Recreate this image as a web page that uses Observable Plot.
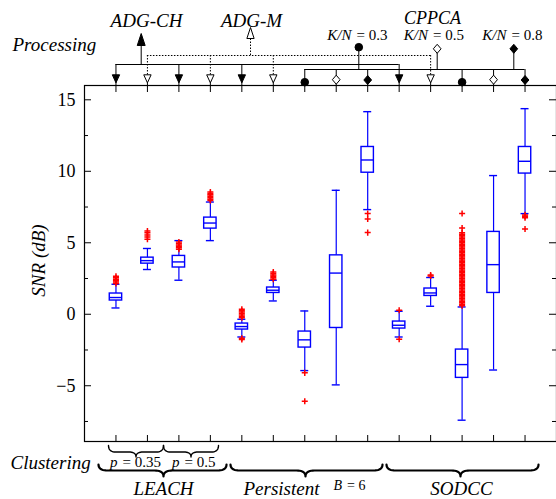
<!DOCTYPE html>
<html>
<head>
<meta charset="utf-8">
<script src="https://cdn.jsdelivr.net/npm/d3@7"></script>
<script src="https://cdn.jsdelivr.net/npm/@observablehq/plot@0.6"></script>
<style>
  html, body { margin: 0; padding: 0; background: white; }
  svg { display: block; }
</style>
</head>
<body>
<script>
// ---------------- data ----------------
const processing = ["ADG-CH","ADG-M","ADG-CH","ADG-M","ADG-CH","ADG-M",
  "CPPCA K/N = 0.3","CPPCA K/N = 0.5","CPPCA K/N = 0.8",
  "ADG-CH","ADG-M","CPPCA K/N = 0.3","CPPCA K/N = 0.5","CPPCA K/N = 0.8"];
const clustering = ["LEACH p = 0.35","LEACH p = 0.35","LEACH p = 0.5","LEACH p = 0.5",
  "Persistent","Persistent","Persistent","Persistent","Persistent",
  "SODCC","SODCC","SODCC","SODCC","SODCC"];
const whiskerLow  = [0.44, 3.13, 2.38, 5.15, -1.59, 0.93, -3.94, -4.94, 7.32, -1.59, 0.56, -7.41, -3.90, 7.04];
const quartile1   = [0.96, 3.54, 3.27, 5.99, -1.07, 1.49, -2.33, -0.96, 9.90, -1.00, 1.28, -4.45, 1.49, 9.84];
const median      = [1.17, 3.75, 3.66, 6.38, -0.86, 1.68, -1.79, 2.88, 10.79, -0.77, 1.49, -3.52, 3.47, 10.70];
const quartile3   = [1.45, 3.96, 4.08, 6.76, -0.65, 1.87, -1.21, 4.12, 11.70, -0.51, 1.80, -2.47, 5.76, 11.70];
const whiskerHigh = [2.10, 4.60, 5.15, 7.85, -0.35, 2.38, 0.23, 8.67, 14.17, 0.21, 2.57, 0.51, 9.70, 14.38];
const outliers = [
  [2.15, 2.25, 2.35, 2.45, 2.55, 2.65],
  [5.25, 5.40, 5.55, 5.70, 5.82],
  [4.55, 4.65, 4.75, 4.85, 4.95, 5.05],
  [7.95, 8.05, 8.15, 8.25, 8.35, 8.45, 8.55],
  [-0.25, -0.15, -0.05, 0.05, 0.15, 0.25, 0.35, -1.68, -1.76],
  [2.45, 2.55, 2.65, 2.75, 2.85, 2.95],
  [-4.10, -6.08],
  [],
  [7.04, 6.67, 5.71],
  [0.28, -1.75],
  [2.68, 2.75],
  [0.6, 0.7, 0.8, 0.9, 1.0, 1.1, 1.2, 1.3, 1.4, 1.5, 1.6, 1.7, 1.8, 1.9, 2.0, 2.1, 2.2, 2.3, 2.4, 2.5,
   2.6, 2.7, 2.8, 2.9, 3.0, 3.1, 3.2, 3.3, 3.4, 3.5, 3.6, 3.7, 3.8, 3.9, 4.0, 4.1, 4.2, 4.3, 4.4, 4.5,
   4.6, 4.7, 4.8, 4.9, 5.0, 5.1, 5.2, 5.3, 5.4, 5.5, 5.6, 5.7, 6.03, 7.04],
  [],
  [6.95, 6.85, 6.75, 5.97]
];
const yMajorTicks = [-5, 0, 5, 10, 15];
const yMinorTicks = [-7.5, -2.5, 2.5, 7.5, 12.5];

// ---------------- layout ----------------
const W = 556, H = 499, mt = 85, mb = 58, ml = 84, mr = 0;
const xDomain = [0, 15], yDomain = [-8.9, 16];
const xs = d3.scaleLinear(xDomain, [ml, W - mr]);
const ys = d3.scaleLinear(yDomain, [H - mb, mt]);
const X = p => xs.invert(p), Y = p => ys.invert(p);
const boxHalf = X(ml + 6.2), capHalf = X(ml + 4);
const blue = "#0000ff";

const rows = processing.map((p, i) => ({
  pos: i + 1, proc: p, clus: clustering[i],
  lo: whiskerLow[i], q1: quartile1[i], med: median[i], q3: quartile3[i], hi: whiskerHigh[i]
}));
const outlierRows = outliers.flatMap((vals, i) => vals.map(v => ({pos: i + 1, v})));

// custom marker symbols
const sym = pts => ({draw(ctx, size) {
  const s = Math.sqrt(size / Math.PI);
  ctx.moveTo(pts[0][0] * s, pts[0][1] * s);
  for (const [a, b] of pts.slice(1)) ctx.lineTo(a * s, b * s);
  ctx.closePath();
}});
const triDown = sym([[-0.46, -0.5], [0.46, -0.5], [0, 0.5]]);
const triUp = sym([[0, -0.5], [0.33, 0.5], [-0.33, 0.5]]);
const diamond = sym([[0, -0.5], [0.43, 0], [0, 0.5], [-0.43, 0]]);

// processing tree styling
const procStyle = {
  "ADG-CH":          {bus: 64, dash: null,      symbol: triDown, r: 8,   fill: "black", my: 78.3},
  "ADG-M":           {bus: 55, dash: "1.5,1.5", symbol: triDown, r: 8,   fill: "white", my: 78.3},
  "CPPCA K/N = 0.3": {bus: 69, dash: null,      symbol: "circle", r: 3.8, fill: "black", my: 81.7},
  "CPPCA K/N = 0.5": {bus: 69, dash: null,      symbol: diamond, r: 9,   fill: "white", my: 79.2},
  "CPPCA K/N = 0.8": {bus: 69, dash: null,      symbol: diamond, r: 9,   fill: "black", my: 79.5}
};
const heads = [
  {key: "ADG-CH", x: 140.7, from: 64, to: 45, hy: 39, symbol: triUp, r: 12, fill: "black", dash: null},
  {key: "ADG-M", x: 250, from: 55, to: 38, hy: 32.5, symbol: triUp, r: 11, fill: "white", dash: "1.5,1.5"},
  {key: "CPPCA K/N = 0.3", x: 358.3, from: 69, to: 47, hy: 46.7, symbol: "circle", r: 3.8, fill: "black", dash: null},
  {key: "CPPCA K/N = 0.5", x: 436.7, from: 69, to: 48, hy: 48.3, symbol: diamond, r: 9, fill: "white", dash: null},
  {key: "CPPCA K/N = 0.8", x: 513.3, from: 69, to: 48, hy: 48.3, symbol: diamond, r: 9, fill: "black", dash: null}
];
const buses = [
  {keys: ["ADG-CH"], y: 64, dash: null},
  {keys: ["ADG-M"], y: 55, dash: "1.5,1.5"},
  {keys: ["CPPCA K/N = 0.3", "CPPCA K/N = 0.5", "CPPCA K/N = 0.8"], y: 69, dash: null}
];

// braces (px): [x0, x1, tip, yEnd, yMid, yTip, radius, width]
const braces = [
  [108, 163, 135.5, 445, 451.5, 456.5, 7, 1.4],
  [163, 218, 190.5, 445, 451.5, 456.5, 7, 1.4],
  [98, 226, 163, 464, 470, 476, 9, 2.2],
  [230, 382, 305, 464, 470, 476, 9, 2.2],
  [386, 538, 460, 464, 470, 476, 9, 2.2]
];
function bracePoints([x0, x1, xt, yE, yM, yT, r]) {
  const pts = [];
  const q = (p0, c, p1) => {
    for (let k = 0; k <= 10; k++) {
      const t = k / 10, u = 1 - t;
      pts.push([u*u*p0[0] + 2*u*t*c[0] + t*t*p1[0], u*u*p0[1] + 2*u*t*c[1] + t*t*p1[1]]);
    }
  };
  q([x0, yE], [x0, yM], [x0 + r, yM]);
  q([xt - r, yM], [xt, yM], [xt, yT]);
  q([xt, yT], [xt, yM], [xt + r, yM]);
  q([x1 - r, yM], [x1, yM], [x1, yE]);
  return pts.map(([x, y]) => ({x: X(x), y: Y(y)}));
}

// text helper: baseline in px
function label(text, xpx, base, {anchor = "middle", italic = true, size = 19, rotate = 0} = {}) {
  return Plot.text([text], {
    x: () => X(xpx), y: () => Y(base - (rotate ? 0 : 0.32 * size)), text: d => d,
    textAnchor: anchor, fontSize: size, fontStyle: italic ? "italic" : "normal",
    rotate, fill: "black"
  });
}
// mixed: italic part ends at split-gap, upright part starts at split+gap
function mixed(it, up, split, base, size) {
  return [
    label(it, split - 2.5, base, {anchor: "end", italic: true, size}),
    label(up, split + 2.5, base, {anchor: "start", italic: false, size})
  ];
}

const fmt = d => d < 0 ? "\u2212" + (-d) : String(d);

const marks = [
  // boxes
  Plot.ruleX(rows, {x: "pos", y1: "lo", y2: "q1", stroke: blue, strokeWidth: 1.2}),
  Plot.ruleX(rows, {x: "pos", y1: "q3", y2: "hi", stroke: blue, strokeWidth: 1.2}),
  Plot.rect(rows, {x1: d => d.pos - boxHalf, x2: d => d.pos + boxHalf, y1: "q1", y2: "q3",
    fill: "none", stroke: blue, strokeWidth: 1.4}),
  Plot.ruleY(rows, {y: "med", x1: d => d.pos - boxHalf, x2: d => d.pos + boxHalf, stroke: blue, strokeWidth: 1.4}),
  Plot.ruleY(rows, {y: "lo", x1: d => d.pos - capHalf, x2: d => d.pos + capHalf, stroke: blue, strokeWidth: 1.4}),
  Plot.ruleY(rows, {y: "hi", x1: d => d.pos - capHalf, x2: d => d.pos + capHalf, stroke: blue, strokeWidth: 1.4}),
  Plot.dot(outlierRows, {x: "pos", y: "v", symbol: "plus", r: 2.1, stroke: "red", strokeWidth: 1.5}),

  // frame & ticks
  Plot.frame({stroke: "black", strokeWidth: 1.2}),
  Plot.ruleY(yMajorTicks, {y: d => d, x1: 0, x2: X(ml + 7), stroke: "black"}),
  Plot.ruleY(yMinorTicks, {y: d => d, x1: 0, x2: X(ml + 4), stroke: "black"}),
  Plot.ruleY(yMajorTicks, {y: d => d, x1: X(W - 7), x2: 15, stroke: "black"}),
  Plot.ruleY(yMinorTicks, {y: d => d, x1: X(W - 4), x2: 15, stroke: "black"}),
  Plot.ruleX(rows, {x: "pos", y1: Y(H - mb), y2: Y(H - mb - 6), stroke: "black"}),
  Plot.ruleX(rows, {x: "pos", y1: d => Y(procStyle[d.proc].my), y2: Y(mt + 7), stroke: "black"}),
  Plot.text(yMajorTicks, {x: 0, y: d => d, text: fmt, textAnchor: "end", dx: -9, fontSize: 18, fill: "black"}),

  // processing tree: stems from buses
  ...Object.entries(procStyle).map(([k, s]) =>
    Plot.ruleX(rows.filter(d => d.proc === k), {x: "pos", y1: Y(s.bus), y2: Y(s.my), stroke: "black",
      strokeDasharray: s.dash ?? undefined})),
  // buses
  ...buses.map(b => {
    const ext = d3.extent(rows.filter(d => b.keys.includes(d.proc)), d => d.pos);
    return Plot.ruleY([b.y], {y: d => Y(d), x1: ext[0], x2: ext[1], stroke: "black", strokeDasharray: b.dash ?? undefined});
  }),
  // head stems
  ...heads.map(h => Plot.ruleX([h], {x: d => X(d.x), y1: d => Y(d.from), y2: d => Y(d.to), stroke: "black",
    strokeDasharray: h.dash ?? undefined})),
  // markers
  ...Object.entries(procStyle).map(([k, s]) =>
    Plot.dot(rows.filter(d => d.proc === k), {x: "pos", y: () => Y(s.my), symbol: s.symbol, r: s.r,
      fill: s.fill, stroke: "black", strokeWidth: 1})),
  ...heads.map(h => Plot.dot([h], {x: d => X(d.x), y: d => Y(d.hy), symbol: h.symbol, r: h.r,
    fill: h.fill, stroke: "black", strokeWidth: 1})),

  // braces
  ...braces.map(b => Plot.line(bracePoints(b), {x: "x", y: "y", stroke: "black", strokeWidth: b[7], curve: "linear"})),

  // texts
  label("Processing", 12, 50, {anchor: "start"}),
  label("ADG-CH", 146, 26),
  label("ADG-M", 251, 26),
  label("CPPCA", 432, 23, {size: 18}),
  ...mixed("K/N", "= 0.3", 353.5, 39, 15),
  ...mixed("K/N", "= 0.5", 430, 39, 15),
  ...mixed("K/N", "= 0.8", 508.5, 39, 15),
  label("Clustering", 10, 468, {anchor: "start"}),
  ...mixed("p", "= 0.35", 119.5, 466, 15),
  ...mixed("p", "= 0.5", 181.5, 466, 15),
  label("LEACH", 163, 494),
  label("Persistent", 281, 494),
  ...mixed("B", "= 6", 344, 489, 14),
  label("SODCC", 461, 494),
  label("SNR (dB)", 38, 260, {rotate: -90})
];

const chart = Plot.plot({
  width: W, height: H,
  marginTop: mt, marginBottom: mb, marginLeft: ml, marginRight: mr,
  x: {domain: xDomain, axis: null},
  y: {domain: yDomain, axis: null},
  style: {fontFamily: "'Liberation Serif', 'DejaVu Serif', serif", background: "white", overflow: "visible"},
  marks
});
document.body.appendChild(chart);
</script>
</body>
</html>
